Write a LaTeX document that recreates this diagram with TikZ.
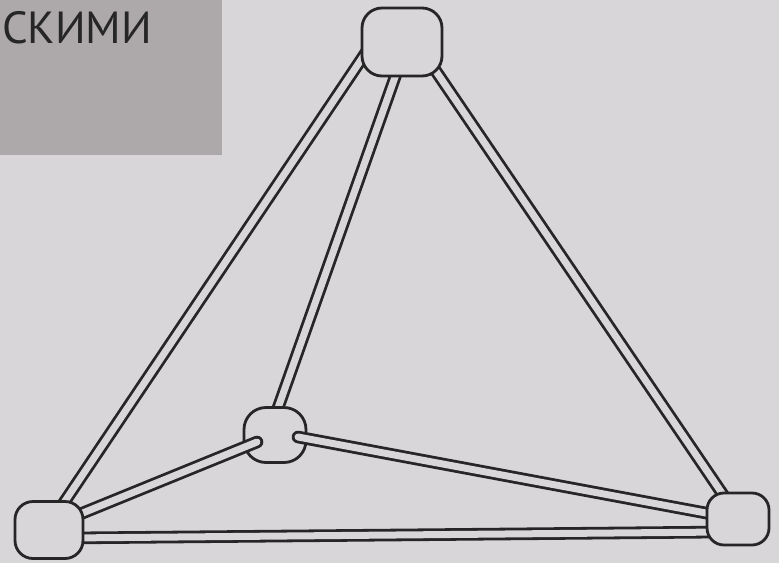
\documentclass[tikz,border=0pt]{standalone}
\usepackage{fontspec}
\newfontfamily\ptsans{PT Sans}
\definecolor{bg}{HTML}{D8D6D8}
\definecolor{inset}{HTML}{ADA8AA}
\definecolor{ink}{HTML}{262626}
\begin{document}
\begin{tikzpicture}[x=1pt,y=-1pt,
  stick/.style={draw=ink,line width=2.8pt,double=bg,double distance=7pt},
  joint/.style={draw=ink,line width=2.8pt,fill=bg,inner sep=0pt}]
\useasboundingbox (0,0) rectangle (779,563);
\fill[bg] (0,0) rectangle (779,563);
% inset with text
\fill[inset] (0,0) rectangle (222,155);
\node[anchor=base west,inner sep=0pt,text=ink,font=\ptsans\fontsize{45}{50}\selectfont] (word) at (2,43) {СКИМИ};
% node positions
\coordinate (Tc) at (402,42);
\coordinate (Mc) at (275,435);
\coordinate (Lc) at (49,530);
\coordinate (Rc) at (738,519);
% stick ends
\coordinate (t1) at (371,45);  \coordinate (l1) at (57,513);
\coordinate (t2) at (400,63);  \coordinate (m2) at (278,408);
\coordinate (t3) at (427,58);  \coordinate (r3) at (730,505);
\coordinate (l4) at (68,519);
\coordinate (r5) at (722,516);
\coordinate (l6) at (68,538);  \coordinate (r6) at (722,532);
% top-middle stick first (hidden under middle node)
\draw[stick] (t2) -- (m2);
\node[joint,minimum width=62pt,minimum height=55pt,rounded corners=22pt] (M) at (Mc) {};
\draw[stick] (t1) -- (l1);
\draw[stick] (t3) -- (r3);
\draw[stick] (l6) -- (r6);
\draw[stick,line cap=round] (M.center) ++(-18,7) coordinate (m4b) (m4b) -- (l4);
\draw[stick,line cap=round] (M.center) ++(23,2) coordinate (m5b) (m5b) -- (r5);
\node[joint,minimum width=80pt,minimum height=68pt,rounded corners=20pt] (T) at (Tc) {};
\node[joint,minimum width=68pt,minimum height=57pt,rounded corners=18pt] (L) at (Lc) {};
\node[joint,minimum width=62pt,minimum height=52pt,rounded corners=17pt] (R) at (Rc) {};
\end{tikzpicture}
\end{document}
